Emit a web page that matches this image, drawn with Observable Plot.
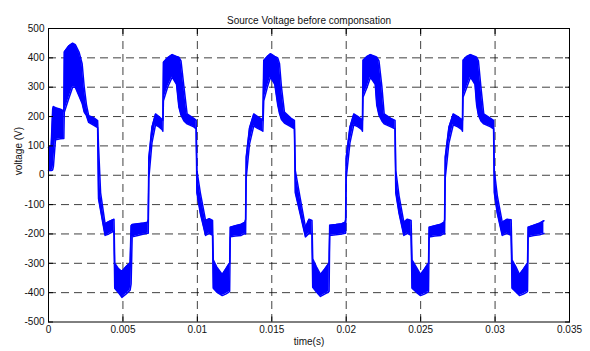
<!DOCTYPE html>
<html><head><meta charset="utf-8">
<script src="https://cdn.jsdelivr.net/npm/d3@7"></script>
<script src="https://cdn.jsdelivr.net/npm/@observablehq/plot@0.6"></script>
<style>body{margin:0;background:#fff}</style>
</head><body><div id="chart"></div>
<script>
const title = "Source Voltage before componsation";
const xLabel = "time(s)";
const yLabel = "voltage (V)";
const xTicks = [0, 0.005, 0.01, 0.015, 0.02, 0.025, 0.03, 0.035];
const xTickLabels = ["0", "0.005", "0.01", "0.015", "0.02", "0.025", "0.03", "0.035"];
const yTicks = [-500, -400, -300, -200, -100, 0, 100, 200, 300, 400, 500];

// time in milliseconds; upper / lower envelope of the noisy waveform (V)
const timeMs = [
  // period 1
  0.00, 0.18, 0.28, 0.33, 0.47, 0.80, 1.03, 1.06, 1.35, 1.62, 1.80, 2.05, 2.26, 2.40, 2.55, 2.70, 3.05, 3.30, 3.36, 3.50, 3.80, 4.05, 4.40, 4.45, 4.70, 4.93, 5.20, 5.48, 5.55, 5.62, 6.00, 6.40, 6.66,
  // period 2
  6.70, 6.74, 6.95, 7.19, 7.42, 7.64, 7.68, 7.72, 8.00, 8.31, 8.60, 8.76, 8.90, 9.10, 9.31, 9.76, 9.92, 9.97, 10.20, 10.55, 10.80, 11.02, 11.07, 11.30, 11.67, 11.90, 12.12, 12.17, 12.21, 12.55, 12.95, 13.20,
  // period 3
  13.24, 13.28, 13.50, 13.79, 14.05, 14.35, 14.40, 14.46, 14.70, 14.91, 15.20, 15.40, 15.52, 15.65, 15.85, 16.30, 16.52, 16.58, 16.90, 17.26, 17.50, 17.70, 17.75, 18.00, 18.27, 18.55, 18.80, 18.85, 18.89, 19.30, 19.70, 19.93,
  // period 4
  19.96, 20.00, 20.25, 20.51, 20.80, 21.05, 21.09, 21.13, 21.40, 21.63, 21.95, 22.05, 22.20, 22.40, 22.55, 23.00, 23.28, 23.33, 23.55, 23.87, 24.10, 24.36, 24.42, 24.70, 24.99, 25.25, 25.48, 25.53, 25.57, 25.95, 26.35, 26.58,
  // period 5
  26.61, 26.65, 26.90, 27.19, 27.50, 27.77, 27.81, 27.85, 28.10, 28.35, 28.65, 28.76, 28.88, 29.05, 29.24, 29.70, 29.90, 29.95, 30.15, 30.48, 30.80, 31.08, 31.14, 31.40, 31.64, 31.90, 32.14, 32.18, 32.22, 32.60, 33.00, 33.28
];
const upper = [
  95, 100, 225, 234, 230, 225, 219, 420, 440, 450, 445, 420, 380, 300, 240, 203, 196, 186, 100, -60, -165, -158, -150, -300, -318, -328, -312, -298, -172, -168, -165, -163, -160,
  -150, 60, 164, 209, 200, 190, 187, 385, 400, 411, 405, 402, 390, 300, 209, 194, 187, 16, -60, -154, -148, -154, -288, -312, -338, -320, -302, -300, -177, -172, -167, -160,
  -150, 61, 160, 209, 200, 190, 187, 391, 405, 414, 405, 400, 380, 300, 215, 194, 187, 16, -75, -177, -150, -154, -285, -312, -338, -320, -302, -298, -170, -168, -165, -160,
  -150, 61, 164, 209, 200, 190, 187, 392, 405, 411, 405, 402, 390, 300, 209, 194, 187, 16, -70, -160, -150, -154, -288, -312, -338, -320, -302, -300, -177, -172, -167, -160,
  -150, 61, 164, 209, 200, 190, 187, 392, 405, 411, 405, 402, 390, 300, 209, 194, 187, 16, -70, -160, -150, -152, -288, -312, -338, -320, -302, -300, -177, -170, -163, -155
];
const lower = [
  16, 16, 18, 30, 121, 124, 125, 215, 260, 300, 300, 270, 245, 215, 203, 180, 170, 162, -80, -120, -205, -200, -190, -385, -400, -416, -405, -392, -370, -210, -205, -200, -198,
  -198, -10, 110, 172, 165, 155, 150, 254, 300, 334, 310, 232, 205, 185, 175, 165, 158, -60, -130, -205, -198, -205, -385, -398, -410, -405, -398, -395, -210, -207, -205, -198,
  -200, -10, 105, 168, 160, 152, 150, 254, 300, 334, 310, 240, 210, 190, 178, 165, 158, -60, -130, -210, -198, -200, -382, -398, -413, -405, -398, -395, -205, -203, -200, -198,
  -198, -10, 110, 172, 165, 155, 150, 266, 300, 334, 310, 240, 205, 185, 175, 165, 158, -60, -130, -205, -198, -205, -385, -398, -410, -405, -398, -395, -210, -207, -205, -198,
  -200, -10, 110, 172, 165, 155, 150, 266, 300, 334, 310, 240, 205, 185, 175, 165, 158, -60, -130, -205, -198, -205, -385, -398, -410, -405, -398, -395, -210, -205, -203, -198
];

const data = timeMs.map((t, i) => ({t: t / 1000, hi: upper[i], lo: lower[i]}));
const blue = "#0000ff";
const grid = {stroke: "#000", strokeOpacity: 0.75, strokeWidth: 1, strokeDasharray: "8,5"};
const noText = () => "";

const chart = Plot.plot({
  width: 590, height: 351,
  marginLeft: 48, marginRight: 21, marginTop: 28, marginBottom: 29.5,
  x: {domain: [0, 0.035]},
  y: {domain: [-500, 500]},
  style: {fontFamily: "'Liberation Sans', Arial, sans-serif", fontSize: "10px", color: "#111", background: "#fff"},
  marks: [
    Plot.ruleY(yTicks.slice(1, -1), grid),
    Plot.ruleX(xTicks.slice(1, -1), grid),
    Plot.areaY(data, {x: "t", y1: "lo", y2: "hi", fill: blue}),
    Plot.line(data, {x: "t", y: "hi", stroke: blue, strokeWidth: 1.5}),
    Plot.line(data, {x: "t", y: "lo", stroke: blue, strokeWidth: 1.5}),
    Plot.frame({stroke: "#000", strokeWidth: 1}),
    Plot.axisY({ticks: yTicks, anchor: "left", tickSize: 5, dx: 5, tickFormat: noText, label: null, stroke: "#000"}),
    Plot.axisY({ticks: yTicks, anchor: "right", tickSize: 5, dx: -5, tickFormat: noText, label: null, stroke: "#000"}),
    Plot.axisX({ticks: xTicks, anchor: "bottom", tickSize: 5, dy: -5, tickFormat: noText, label: null, stroke: "#000"}),
    Plot.axisX({ticks: xTicks, anchor: "top", tickSize: 5, dy: 5, tickFormat: noText, label: null, stroke: "#000"}),
    Plot.axisY({ticks: yTicks, anchor: "left", tickSize: 0, tickPadding: 4, tickFormat: d => String(d), label: null}),
    Plot.axisX({ticks: xTicks, anchor: "bottom", tickSize: 0, tickPadding: 4, tickFormat: d => xTickLabels[xTicks.indexOf(d)], label: null}),
    Plot.text([title], {frameAnchor: "top", dy: -12, fontSize: 10, fill: "#111"}),
    Plot.text([xLabel], {frameAnchor: "bottom", dy: 23, fontSize: 10, fill: "#111"}),
    Plot.text([yLabel], {frameAnchor: "left", dx: -30, rotate: -90, fontSize: 10, fill: "#111"})
  ]
});
document.getElementById("chart").appendChild(chart);
</script>
</body></html>
